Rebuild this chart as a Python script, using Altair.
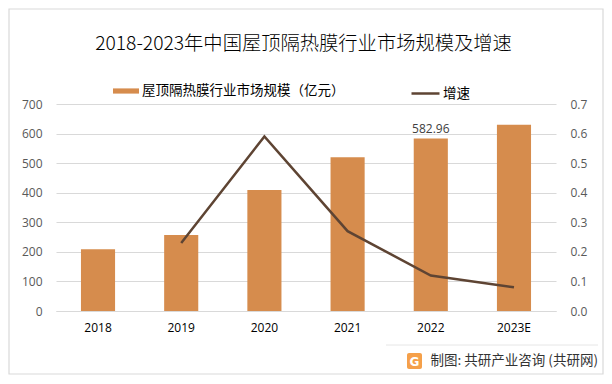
import altair as alt
import pandas as pd

years = ["2018", "2019", "2020", "2021", "2022", "2023E"]
market = [209, 257, 409, 520, 582.96, 630]
growth = [None, 0.23, 0.59, 0.27, 0.12, 0.08]
bar_name = "屋顶隔热膜行业市场规模（亿元）"
line_name = "增速"
title_text = "2018-2023年中国屋顶隔热膜行业市场规模及增速"
source_text = "制图: 共研产业咨询 (共研网)"

df = pd.DataFrame({"year": years, "market": market, "growth": growth})
df["bar_s"] = bar_name
df["line_s"] = line_name
df["label"] = ["", "", "", "", "582.96", ""]

FONT = "Noto Sans CJK SC"
x_enc = alt.X("year:N", sort=years, title=None,
              scale=alt.Scale(paddingInner=0.59, paddingOuter=0.3),
              axis=alt.Axis(labelAngle=0, labelColor="#000000", labelFontSize=12,
                            labelFont="Open Sans", ticks=False, domainColor="#d9d9d9",
                            labelPadding=11))

bars = alt.Chart(df).mark_bar(color="#D68C4D").encode(
    x=x_enc,
    y=alt.Y("market:Q", title=None,
            scale=alt.Scale(domain=[0, 700]),
            axis=alt.Axis(values=list(range(0, 701, 100)), domain=False, ticks=False,
                          labelColor="#595959", labelFontSize=12, labelFont="Open Sans",
                          gridColor="#d9d9d9", labelPadding=14)),
    fill=alt.Fill("bar_s:N", title=None,
                  scale=alt.Scale(domain=[bar_name], range=["#D68C4D"]),
                  legend=alt.Legend(orient="none", legendX=57, legendY=-26,
                                    symbolType="M-1,-0.2H1V0.2H-1Z", symbolSize=676,
                                    labelLimit=0, labelOffset=3,
                                    labelFontSize=13.5, labelFont=FONT,
                                    labelColor="#000000", symbolStrokeWidth=0)),
)

labels = alt.Chart(df).mark_text(dy=-10, fontSize=12, font="Open Sans",
                                 color="#404040").encode(
    x=x_enc,
    y=alt.Y("market:Q", scale=alt.Scale(domain=[0, 700]), axis=None),
    text="label:N",
)

line = alt.Chart(df).mark_line(strokeWidth=2.5).encode(
    x=x_enc,
    y=alt.Y("growth:Q", title=None,
            scale=alt.Scale(domain=[0, 0.7]),
            axis=alt.Axis(orient="right", values=[0, 0.1, 0.2, 0.3, 0.4, 0.5, 0.6, 0.7],
                          format=".1f", domain=False, ticks=False, grid=False,
                          labelColor="#595959", labelFontSize=12, labelFont="Open Sans",
                          labelPadding=14)),
    stroke=alt.Stroke("line_s:N", title=None,
                      scale=alt.Scale(domain=[line_name], range=["#5E4433"]),
                      legend=alt.Legend(orient="none", legendX=354, legendY=-26,
                                        symbolType="stroke", symbolSize=784,
                                        symbolStrokeWidth=2.5, labelOffset=2,
                                        labelFontSize=13.5, labelFont=FONT,
                                        labelColor="#000000")),
)

border = alt.Chart(pd.DataFrame({"a": [0]})).mark_rect(
    fill=None, stroke="#d9d9d9", strokeWidth=1.2).encode(
    x=alt.value(-47), x2=alt.value(547), y=alt.value(-95), y2=alt.value(270))

sep = alt.Chart(pd.DataFrame({"a": [0]})).mark_rule(color="#e6e6e6").encode(
    x=alt.value(330), x2=alt.value(542), y=alt.value(241))

title = alt.Chart(pd.DataFrame({"t": [title_text]})).mark_text(
    align="center", baseline="middle", fontSize=19.3, font=FONT, fontWeight=300,
    color="#000000").encode(x=alt.value(247.5), y=alt.value(-60), text="t:N")

src = alt.Chart(pd.DataFrame({"t": [source_text]})).mark_text(
    align="right", baseline="middle", fontSize=13.5, font=FONT, color="#333333").encode(
    x=alt.value(542), y=alt.value(257), text="t:N")

logo_bg = alt.Chart(pd.DataFrame({"a": [0]})).mark_rect(
    color="#F5A04A", cornerRadius=2).encode(
    x=alt.value(351), x2=alt.value(366), y=alt.value(249), y2=alt.value(265))

logo = alt.Chart(pd.DataFrame({"t": ["G"]})).mark_text(
    align="center", baseline="middle", fontSize=12, font="DejaVu Sans", fontWeight="bold",
    color="#ffffff").encode(x=alt.value(358.5), y=alt.value(257.5), text="t:N")

main = alt.layer(bars, labels, line).resolve_scale(y="independent", fill="independent",
                                                    stroke="independent")

chart = alt.layer(main, border, sep, title, src, logo_bg, logo).properties(
    width=500, height=207,
    padding={"left": 48, "top": 96, "right": 48, "bottom": 65},
    autosize=alt.AutoSizeParams(type="none"),
).configure_view(stroke=None)

chart.save("out.html", embed_options={"renderer": "svg", "actions": False})
